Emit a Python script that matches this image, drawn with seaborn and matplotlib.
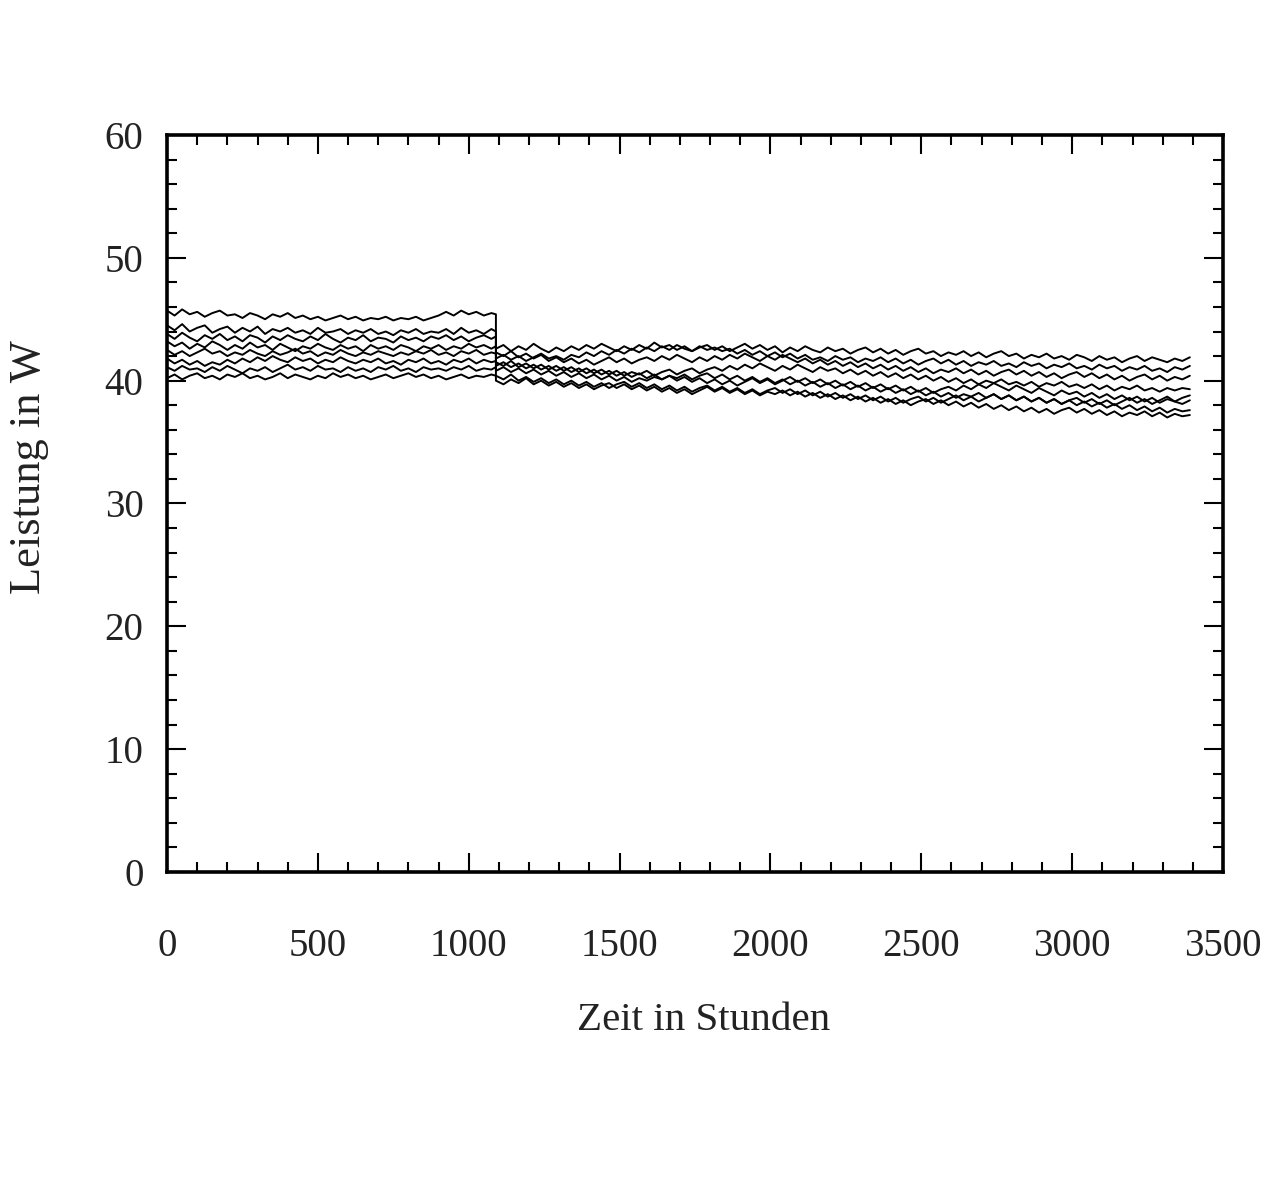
import numpy as np
import pandas as pd
import seaborn as sns
import matplotlib.pyplot as plt
from matplotlib.ticker import MultipleLocator

# Leistung in W, 8 Module
# Phase 1: alle 25 h ab 0 h, letzter Wert bei 1090 h
phase1_step, phase1_end = 25, 1090
leistung_phase1 = [
    [45.7, 45.3, 45.8, 45.4, 45.6, 45.2, 45.5, 45.7, 45.3,
     45.4, 45.1, 45.5, 45.3, 45.0, 45.4, 45.2, 45.5, 45.1,
     45.3, 45.0, 45.2, 44.9, 45.1, 45.3, 45.0, 45.2, 44.9,
     45.1, 45.0, 45.2, 44.9, 45.1, 45.0, 45.2, 44.9, 45.1,
     45.3, 45.6, 45.3, 45.7, 45.4, 45.6, 45.3, 45.5, 45.4],
    [44.5, 44.1, 44.6, 44.0, 44.3, 44.5, 43.9, 44.2, 44.4,
     43.9, 44.3, 44.0, 44.4, 43.8, 44.2, 44.0, 44.3, 43.9,
     44.1, 43.8, 44.3, 43.9, 44.0, 44.2, 43.8, 44.1, 43.9,
     44.2, 43.8, 44.0, 43.7, 44.1, 43.9, 44.2, 43.8, 44.0,
     43.9, 44.2, 43.8, 44.3, 43.9, 44.1, 43.8, 44.2, 44.0],
    [43.8, 43.4, 43.9, 43.5, 43.2, 43.7, 43.4, 43.8, 43.3,
     43.6, 43.2, 43.7, 43.5, 43.1, 43.6, 43.3, 43.7, 43.4,
     43.2, 43.6, 43.3, 43.8, 43.4, 43.1, 43.5, 43.3, 43.7,
     43.2, 43.5, 43.4, 43.1, 43.6, 43.3, 43.5, 43.2, 43.6,
     43.4, 43.7, 43.3, 43.6, 43.2, 43.5, 43.7, 43.4, 43.6],
    [43.2, 42.8, 43.1, 42.6, 43.0, 42.7, 43.2, 42.9, 42.5,
     42.9, 42.6, 43.1, 42.7, 42.9, 42.5, 43.0, 42.7, 42.4,
     42.8, 42.6, 43.0, 42.7, 42.5, 42.9, 42.6, 42.8, 42.4,
     42.9, 42.6, 42.8, 42.5, 42.9, 42.7, 42.4, 42.8, 42.6,
     42.9, 42.5, 42.8, 42.6, 43.0, 42.7, 42.9, 42.6, 42.8],
    [42.5, 42.1, 42.4, 42.0, 42.3, 42.6, 42.2, 42.4, 42.0,
     42.3, 42.1, 42.5, 42.2, 42.0, 42.4, 42.1, 42.3, 42.6,
     42.2, 42.4, 42.0, 42.3, 42.1, 42.5, 42.2, 42.0, 42.3,
     42.1, 42.4, 42.2, 42.0, 42.3, 42.1, 42.4, 42.2, 42.5,
     42.1, 42.3, 42.0, 42.4, 42.2, 42.5, 42.1, 42.3, 42.2],
    [41.8, 41.4, 41.7, 41.3, 41.6, 41.2, 41.5, 41.3, 41.7,
     41.4, 41.8, 41.5, 41.9, 41.6, 42.0, 41.7, 41.5, 41.9,
     41.6, 41.8, 41.4, 41.7, 41.5, 41.9, 41.6, 41.4, 41.7,
     41.5, 41.8, 41.4, 41.6, 41.3, 41.7, 41.5, 41.8, 41.4,
     41.6, 41.3, 41.7, 41.5, 41.8, 41.4, 41.7, 41.5, 41.6],
    [41.1, 40.8, 41.2, 40.9, 41.0, 40.7, 41.1, 40.8, 41.2,
     40.9, 40.6, 41.0, 40.8, 41.1, 40.7, 41.0, 41.3, 40.9,
     41.1, 40.8, 41.2, 40.9, 41.0, 40.7, 41.1, 40.8, 41.0,
     40.7, 41.1, 40.9, 41.2, 40.8, 41.0, 40.7, 41.1, 40.9,
     41.0, 40.8, 41.1, 40.9, 41.2, 40.8, 41.0, 40.9, 41.1],
    [40.2, 40.5, 40.1, 40.4, 40.6, 40.2, 40.4, 40.1, 40.5,
     40.3, 40.6, 40.2, 40.4, 40.1, 40.3, 40.6, 40.2, 40.5,
     40.3, 40.1, 40.4, 40.2, 40.6, 40.3, 40.5, 40.2, 40.4,
     40.1, 40.3, 40.5, 40.2, 40.4, 40.6, 40.3, 40.5, 40.2,
     40.4, 40.1, 40.3, 40.5, 40.2, 40.4, 40.3, 40.5, 40.4],
]

# Phase 2: ab 1090 h alle 25 h
phase2_start, phase2_step = 1090, 25
leistung_phase2 = [
    [42.6, 42.9, 42.4, 42.8, 42.5, 43.0, 42.6, 42.3, 42.7, 42.4,
     42.8, 42.5, 42.9, 42.6, 43.0, 42.7, 42.4, 42.8, 42.5, 42.9,
     42.6, 43.1, 42.7, 42.9, 42.5, 42.8, 42.4, 42.7, 42.9, 42.5,
     42.8, 42.4, 42.7, 43.0, 42.6, 42.9, 42.5, 42.8, 42.3, 42.7,
     42.4, 42.8, 42.5, 42.3, 42.7, 42.4, 42.6, 42.2, 42.5, 42.7,
     42.3, 42.6, 42.2, 42.5, 42.1, 42.4, 42.6, 42.2, 42.4, 42.0,
     42.3, 42.1, 42.4, 42.0, 42.3, 41.9, 42.2, 42.4, 42.0, 42.2,
     41.8, 42.1, 41.9, 42.2, 41.8, 42.0, 41.7, 42.1, 41.9, 41.6,
     42.0, 41.7, 41.9, 41.5, 41.8, 42.0, 41.6, 41.9, 41.7, 41.5,
     41.8, 41.6, 41.9],
    [41.8, 42.1, 41.7, 42.0, 41.6, 41.9, 42.2, 41.8, 42.0, 41.7,
     42.1, 41.9, 42.3, 42.0, 42.4, 42.1, 42.5, 42.2, 42.6, 42.3,
     42.7, 42.4, 42.8, 42.5, 42.9, 42.6, 42.4, 42.8, 42.5, 42.7,
     42.4, 42.6, 42.2, 42.5, 42.1, 42.4, 42.0, 42.3, 41.9, 42.2,
     41.8, 42.1, 41.7, 41.9, 41.6, 42.0, 41.7, 41.9, 41.5, 41.8,
     41.6, 41.9, 41.5, 41.8, 41.4, 41.7, 41.3, 41.6, 41.8, 41.4,
     41.7, 41.3, 41.6, 41.2, 41.5, 41.3, 41.6, 41.2, 41.4, 41.1,
     41.5, 41.2, 41.4, 41.0, 41.3, 41.1, 41.4, 41.0, 41.2, 40.9,
     41.3, 41.0, 41.2, 40.8, 41.1, 40.9, 41.2, 40.8, 41.0, 40.7,
     41.1, 40.9, 41.2],
    [42.3, 42.0, 42.4, 41.9, 42.2, 41.8, 42.1, 41.6, 41.9, 41.5,
     41.8, 41.4, 41.7, 41.3, 41.6, 41.9, 41.5, 41.8, 41.4, 41.7,
     41.9, 41.6, 42.0, 41.7, 42.1, 41.8, 41.5, 41.9, 41.6, 42.0,
     41.7, 42.1, 41.8, 42.2, 41.9, 41.6, 42.0, 41.7, 42.1, 41.8,
     41.5, 41.8, 41.4, 41.7, 41.3, 41.6, 41.2, 41.5, 41.1, 41.4,
     41.0, 41.3, 40.9, 41.2, 40.8, 41.1, 40.7, 41.0, 40.6, 40.9,
     40.7, 41.0, 40.6, 40.9, 40.5, 40.8, 40.4, 40.7, 40.9, 40.5,
     40.8, 40.4, 40.7, 40.3, 40.6, 40.2, 40.5, 40.7, 40.3, 40.6,
     40.2, 40.5, 40.1, 40.4, 40.0, 40.3, 40.5, 40.1, 40.4, 40.0,
     40.3, 40.1, 40.4],
    [41.5, 41.2, 41.6, 41.1, 41.4, 41.0, 41.3, 40.9, 41.2, 40.8,
     41.1, 40.7, 41.0, 40.6, 40.9, 40.5, 40.8, 40.4, 40.7, 40.5,
     40.8, 40.4, 40.7, 40.9, 40.5, 40.8, 41.0, 40.6, 40.9, 41.1,
     40.8, 41.2, 40.9, 41.3, 41.0, 41.4, 41.1, 40.8, 41.2, 40.9,
     41.3, 41.0, 40.7, 41.1, 40.8, 41.0, 40.6, 40.9, 40.5, 40.8,
     40.4, 40.7, 40.3, 40.6, 40.2, 40.5, 40.1, 40.4, 40.0, 40.3,
     39.9, 40.2, 39.8, 40.1, 39.7, 40.0, 39.8, 40.1, 39.7, 39.9,
     39.6, 39.9, 39.5, 39.8, 39.6, 39.9, 39.5, 39.7, 39.4, 39.7,
     39.3, 39.6, 39.2, 39.5, 39.3, 39.6, 39.2, 39.4, 39.1, 39.4,
     39.2, 39.4, 39.3],
    [41.2, 41.5, 41.1, 41.4, 41.0, 41.3, 40.9, 41.2, 40.8, 41.1,
     40.7, 41.0, 40.6, 40.9, 40.5, 40.8, 40.4, 40.7, 40.3, 40.6,
     40.2, 40.5, 40.1, 40.4, 40.0, 40.3, 39.9, 40.2, 39.8, 40.1,
     39.7, 40.0, 39.6, 39.9, 40.2, 39.8, 40.1, 39.7, 40.0, 40.3,
     39.9, 40.2, 39.8, 40.1, 39.7, 40.0, 39.6, 39.9, 39.5, 39.8,
     39.4, 39.7, 39.3, 39.6, 39.2, 39.5, 39.1, 39.4, 39.0, 39.3,
     39.5, 39.2, 39.6, 39.3, 39.7, 39.4, 39.8, 39.5, 39.2, 39.6,
     39.3, 39.0, 39.4, 39.1, 38.8, 39.2, 38.9, 39.1, 38.7, 39.0,
     38.6, 38.9, 38.5, 38.8, 38.4, 38.7, 38.3, 38.6, 38.2, 38.5,
     38.3, 38.1, 38.4],
    [40.8, 41.1, 40.7, 41.0, 40.6, 40.9, 40.5, 40.8, 40.4, 40.7,
     40.3, 40.6, 40.2, 40.5, 40.1, 40.4, 40.0, 40.3, 39.9, 40.2,
     40.0, 40.3, 40.1, 40.4, 40.2, 40.5, 40.1, 40.4, 40.6, 40.2,
     40.5, 40.1, 40.4, 40.0, 40.3, 39.9, 40.2, 39.8, 40.1, 39.7,
     40.0, 39.6, 39.9, 39.5, 39.8, 39.4, 39.7, 39.3, 39.6, 39.2,
     39.5, 39.1, 39.4, 39.0, 39.3, 38.9, 39.2, 38.8, 39.1, 38.7,
     39.0, 38.6, 38.9, 38.7, 39.0, 38.6, 38.9, 38.5, 38.8, 38.4,
     38.7, 38.3, 38.6, 38.2, 38.5, 38.1, 38.4, 38.0, 38.3, 37.9,
     38.2, 37.8, 38.1, 37.7, 38.0, 37.6, 37.9, 37.5, 37.8, 37.4,
     37.7, 37.5, 37.6],
    [40.4, 40.1, 40.5, 40.0, 40.3, 39.9, 40.2, 39.8, 40.1, 39.7,
     40.0, 39.6, 39.9, 39.5, 39.8, 39.4, 39.7, 39.9, 39.5, 39.8,
     39.4, 39.7, 39.3, 39.6, 39.2, 39.5, 39.1, 39.4, 39.6, 39.2,
     39.5, 39.1, 39.4, 39.0, 39.3, 38.9, 39.2, 39.4, 39.0, 39.3,
     38.9, 39.2, 38.8, 39.1, 38.7, 39.0, 38.6, 38.9, 38.5, 38.8,
     38.4, 38.7, 38.3, 38.6, 38.2, 38.5, 38.7, 38.3, 38.6, 38.2,
     38.5, 38.8, 38.4, 38.7, 38.3, 38.6, 38.9, 38.5, 38.8, 38.4,
     38.7, 38.3, 38.6, 38.2, 38.5, 38.1, 38.4, 38.6, 38.2, 38.5,
     38.1, 38.4, 38.0, 38.3, 38.6, 38.2, 38.5, 38.1, 38.4, 38.7,
     38.3, 38.6, 38.8],
    [40.0, 39.7, 40.1, 39.8, 40.2, 39.7, 40.0, 39.6, 39.9, 39.5,
     39.8, 39.4, 39.7, 39.3, 39.6, 39.8, 39.4, 39.7, 39.3, 39.6,
     39.2, 39.5, 39.1, 39.4, 39.0, 39.3, 38.9, 39.2, 39.5, 39.1,
     39.4, 39.0, 39.3, 38.9, 39.2, 38.8, 39.1, 38.9, 39.2, 38.8,
     39.1, 38.7, 39.0, 38.6, 38.9, 38.5, 38.8, 38.4, 38.7, 38.3,
     38.6, 38.2, 38.5, 38.1, 38.4, 38.0, 38.3, 38.5, 38.1, 38.4,
     38.0, 38.3, 37.9, 38.2, 37.8, 38.1, 37.7, 38.0, 37.6, 37.9,
     37.5, 37.8, 37.4, 37.7, 37.3, 37.6, 37.8, 37.4, 37.7, 37.3,
     37.6, 37.2, 37.5, 37.1, 37.4, 37.2, 37.5, 37.1, 37.4, 37.0,
     37.3, 37.1, 37.2],
]


def build_frame():
    rows = []
    for i, (p1, p2) in enumerate(zip(leistung_phase1, leistung_phase2)):
        t1 = np.minimum(phase1_step * np.arange(len(p1)), phase1_end)
        t2 = phase2_start + phase2_step * np.arange(len(p2))
        for t, w in zip(list(t1) + list(t2), p1 + p2):
            rows.append({"modul": i, "stunden": t, "leistung": w})
    return pd.DataFrame(rows)


def main():
    df = build_frame()

    sns.set_theme(style="white")
    plt.rcParams["font.family"] = ["Liberation Serif", "DejaVu Serif"]

    fig = plt.figure(figsize=(12.8, 11.9), dpi=100)
    ax = fig.add_axes([0.1305, 0.2672, 0.825, 0.6194])

    sns.lineplot(
        data=df, x="stunden", y="leistung", units="modul", estimator=None,
        sort=False, color="black", linewidth=1.4, ax=ax,
    )

    ax.set_xlim(0, 3500)
    ax.set_ylim(0, 60)
    ax.xaxis.set_major_locator(MultipleLocator(500))
    ax.xaxis.set_minor_locator(MultipleLocator(100))
    ax.yaxis.set_major_locator(MultipleLocator(10))
    ax.yaxis.set_minor_locator(MultipleLocator(2))

    ax.tick_params(which="both", direction="in", top=True, right=True,
                   bottom=True, left=True, color="black", width=1.5)
    ax.tick_params(which="major", length=14, labelsize=28, labelcolor="#222222")
    ax.tick_params(which="minor", length=7)
    ax.tick_params(axis="x", which="major", pad=40)
    ax.tick_params(axis="y", which="major", pad=17)

    for s in ax.spines.values():
        s.set_linewidth(2.6)
        s.set_color("black")

    ax.set_xlabel("Zeit in Stunden", fontsize=29.5, color="#222222")
    ax.xaxis.set_label_coords(0.508, -0.176)
    ax.set_ylabel("Leistung in W", fontsize=32, color="#222222")
    ax.yaxis.set_label_coords(-0.112, 0.55)

    fig.savefig("out.png", dpi=100)
    plt.close(fig)


if __name__ == "__main__":
    main()
